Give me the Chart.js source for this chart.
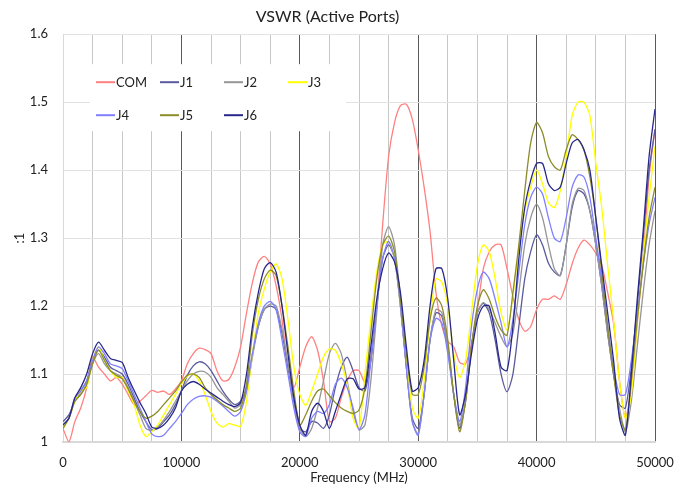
<!DOCTYPE html>
<html>
<head>
<meta charset="utf-8">
<script src="https://cdn.jsdelivr.net/npm/chart.js@4.4.1/dist/chart.umd.min.js"></script>
<style>
  html, body { margin: 0; padding: 0; background: #fff; }
</style>
</head>
<body>
<canvas id="chartVswr" width="675" height="487"></canvas>
<script>
// frequency points (MHz)
const freqs = [0, 500, 1000, 1500, 2000, 2500, 3000, 3500, 4000, 4500,
  5000, 5500, 6000, 6500, 7000, 7500, 8000, 8500, 9000, 9500,
  10000, 10500, 11000, 11500, 12000, 12500, 13000, 13500, 14000, 14500,
  15000, 15500, 16000, 16500, 17000, 17500, 18000, 18500, 19000, 19500,
  20000, 20500, 21000, 21500, 22000, 22500, 23000, 23500, 24000, 24500,
  25000, 25500, 26000, 26500, 27000, 27500, 28000, 28500, 29000, 29500,
  30000, 30500, 31000, 31500, 32000, 32500, 33000, 33500, 34000, 34500,
  35000, 35500, 36000, 36500, 37000, 37500, 38000, 38500, 39000, 39500,
  40000, 40500, 41000, 41500, 42000, 42500, 43000, 43500, 44000, 44500,
  45000, 45500, 46000, 46500, 47000, 47500, 48000, 48500, 49000, 49500, 50000];

const com = [1.02, 1.00, 1.03, 1.05, 1.08, 1.125, 1.11, 1.10, 1.09, 1.095,
  1.085, 1.07, 1.055, 1.06, 1.068, 1.076, 1.073, 1.075, 1.07, 1.078,
  1.09, 1.115, 1.13, 1.138, 1.136, 1.13, 1.105, 1.09, 1.092, 1.11,
  1.14, 1.19, 1.235, 1.265, 1.273, 1.262, 1.23, 1.18, 1.11, 1.08,
  1.11, 1.14, 1.155, 1.135, 1.09, 1.03, 1.035, 1.065, 1.09, 1.105,
  1.105, 1.088, 1.12, 1.20, 1.32, 1.42, 1.47, 1.495, 1.497, 1.475,
  1.43, 1.375, 1.31, 1.22, 1.17, 1.148, 1.14, 1.117, 1.115, 1.145,
  1.195, 1.255, 1.28, 1.29, 1.29, 1.255, 1.214, 1.18, 1.163, 1.17,
  1.195, 1.21, 1.21, 1.215, 1.21, 1.232, 1.262, 1.285, 1.297, 1.29,
  1.278, 1.26, 1.22, 1.175, 1.09, 1.035, 1.08, 1.175, 1.27, 1.39, 1.46];

const j1 = [1.03, 1.04, 1.06, 1.075, 1.09, 1.12, 1.135, 1.125, 1.11, 1.105,
  1.10, 1.085, 1.065, 1.045, 1.03, 1.018, 1.02, 1.03, 1.04, 1.055,
  1.075, 1.098, 1.112, 1.118, 1.115, 1.105, 1.09, 1.075, 1.063, 1.055,
  1.06, 1.08, 1.13, 1.17, 1.195, 1.2, 1.195, 1.16, 1.11, 1.06,
  1.02, 1.015, 1.03, 1.028, 1.02, 1.04, 1.08, 1.11, 1.125, 1.105,
  1.08, 1.075, 1.12, 1.2, 1.27, 1.29, 1.27, 1.2, 1.11, 1.035,
  1.02, 1.07, 1.15, 1.19, 1.185, 1.14, 1.07, 1.02, 1.06, 1.14,
  1.19, 1.204, 1.19, 1.15, 1.1, 1.074, 1.1, 1.17, 1.24, 1.28,
  1.305, 1.29, 1.263, 1.25, 1.245, 1.29, 1.345, 1.37, 1.365, 1.34,
  1.29, 1.23, 1.16, 1.1, 1.055, 1.05, 1.11, 1.2, 1.3, 1.4, 1.46];

const j2 = [1.025, 1.035, 1.06, 1.07, 1.085, 1.115, 1.13, 1.115, 1.105, 1.10,
  1.095, 1.08, 1.06, 1.04, 1.02, 1.017, 1.022, 1.032, 1.045, 1.06,
  1.075, 1.09, 1.10, 1.104, 1.103, 1.095, 1.08, 1.07, 1.06, 1.05,
  1.055, 1.075, 1.125, 1.17, 1.195, 1.203, 1.2, 1.165, 1.115, 1.06,
  1.02, 1.008, 1.02, 1.05, 1.09, 1.13, 1.145, 1.13, 1.09, 1.045,
  1.018, 1.025, 1.09, 1.19, 1.29, 1.317, 1.29, 1.21, 1.11, 1.03,
  1.012, 1.07, 1.15, 1.195, 1.19, 1.14, 1.07, 1.025, 1.06, 1.14,
  1.19, 1.205, 1.195, 1.175, 1.155, 1.14, 1.16, 1.22, 1.29, 1.33,
  1.35, 1.33, 1.29, 1.255, 1.245, 1.29, 1.35, 1.373, 1.37, 1.34,
  1.29, 1.23, 1.16, 1.1, 1.05, 1.015, 1.06, 1.14, 1.22, 1.29, 1.34];

const j3 = [1.02, 1.035, 1.06, 1.075, 1.08, 1.12, 1.14, 1.12, 1.105, 1.095,
  1.095, 1.075, 1.055, 1.025, 1.008, 1.015, 1.025, 1.04, 1.055, 1.07,
  1.085, 1.097, 1.10, 1.09, 1.07, 1.045, 1.028, 1.022, 1.027, 1.025,
  1.023, 1.06, 1.13, 1.19, 1.225, 1.25, 1.262, 1.24, 1.18, 1.11,
  1.07, 1.054, 1.075, 1.10, 1.125, 1.137, 1.135, 1.115, 1.085, 1.035,
  1.02, 1.10, 1.18, 1.25, 1.29, 1.295, 1.27, 1.2, 1.12, 1.05,
  1.035, 1.09, 1.18, 1.24, 1.235, 1.2, 1.13, 1.095, 1.12, 1.19,
  1.26, 1.29, 1.28, 1.24, 1.19, 1.165, 1.215, 1.285, 1.34, 1.375,
  1.40, 1.38, 1.352, 1.345, 1.37, 1.42, 1.48, 1.5, 1.5, 1.48,
  1.41, 1.345, 1.26, 1.18, 1.09, 1.035, 1.07, 1.175, 1.27, 1.36, 1.435];

const j4 = [1.025, 1.035, 1.065, 1.075, 1.09, 1.12, 1.14, 1.13, 1.115, 1.112,
  1.108, 1.09, 1.07, 1.05, 1.03, 1.012, 1.008, 1.01, 1.02, 1.03,
  1.042, 1.055, 1.063, 1.067, 1.068, 1.066, 1.06, 1.053, 1.045, 1.038,
  1.045, 1.075, 1.13, 1.175, 1.2, 1.207, 1.195, 1.15, 1.1, 1.05,
  1.015, 1.008, 1.035, 1.045, 1.042, 1.055, 1.085, 1.094, 1.08, 1.05,
  1.018, 1.04, 1.12, 1.2, 1.27, 1.295, 1.27, 1.2, 1.11, 1.03,
  1.01, 1.07, 1.15, 1.182, 1.175, 1.13, 1.07, 1.03, 1.08, 1.17,
  1.225, 1.25, 1.24, 1.21, 1.175, 1.14, 1.18, 1.25, 1.32, 1.36,
  1.375, 1.365, 1.33, 1.30, 1.295, 1.33, 1.375, 1.393, 1.39, 1.36,
  1.3, 1.24, 1.17, 1.11, 1.07, 1.07, 1.12, 1.19, 1.26, 1.32, 1.36];

const j5 = [1.02, 1.035, 1.06, 1.07, 1.085, 1.115, 1.135, 1.12, 1.105, 1.098,
  1.093, 1.078, 1.06, 1.045, 1.035, 1.038, 1.045, 1.055, 1.065, 1.075,
  1.088, 1.098, 1.10, 1.095, 1.08, 1.07, 1.062, 1.055, 1.05, 1.045,
  1.05, 1.085, 1.16, 1.21, 1.24, 1.253, 1.245, 1.2, 1.14, 1.075,
  1.025, 1.04, 1.06, 1.075, 1.078, 1.068, 1.058, 1.05, 1.045, 1.042,
  1.047, 1.08, 1.16, 1.24, 1.29, 1.303, 1.28, 1.21, 1.13, 1.07,
  1.07, 1.11, 1.18, 1.212, 1.2, 1.15, 1.07, 1.015, 1.06, 1.14,
  1.2, 1.224, 1.21, 1.184, 1.165, 1.157, 1.22, 1.29, 1.37, 1.44,
  1.47, 1.455, 1.42, 1.405, 1.40, 1.43, 1.452, 1.445, 1.43, 1.39,
  1.33, 1.25, 1.17, 1.1, 1.04, 1.018, 1.09, 1.18, 1.26, 1.33, 1.375];

const j6 = [1.025, 1.035, 1.065, 1.08, 1.10, 1.13, 1.147, 1.135, 1.123, 1.12,
  1.117, 1.095, 1.076, 1.058, 1.042, 1.022, 1.02, 1.025, 1.035, 1.05,
  1.075, 1.085, 1.089, 1.085, 1.078, 1.072, 1.066, 1.06, 1.055, 1.052,
  1.058, 1.1, 1.17, 1.22, 1.255, 1.264, 1.25, 1.2, 1.13, 1.065,
  1.025, 1.01, 1.045, 1.057, 1.045, 1.02, 1.045, 1.07, 1.093, 1.093,
  1.078, 1.08, 1.14, 1.21, 1.255, 1.278, 1.265, 1.22, 1.14, 1.075,
  1.08, 1.12, 1.2, 1.255, 1.255, 1.21, 1.12, 1.04, 1.07, 1.13,
  1.18, 1.2, 1.2, 1.16, 1.11, 1.105, 1.17, 1.27, 1.345, 1.385,
  1.41, 1.41, 1.38, 1.37, 1.375, 1.41, 1.44, 1.445, 1.43, 1.4,
  1.33, 1.26, 1.19, 1.12, 1.035, 1.01, 1.1, 1.21, 1.31, 1.42, 1.49];

const seriesNames = ['COM', 'J1', 'J2', 'J3', 'J4', 'J5', 'J6'];
const seriesValues = [com, j1, j2, j3, j4, j5, j6];
const seriesColors = ['rgb(255,128,128)', 'rgb(90,90,160)', 'rgb(150,150,150)', 'rgb(255,255,0)',
  'rgb(128,128,255)', 'rgb(140,140,40)', 'rgb(40,40,140)'];

const FONT = 'Lato, "Noto Sans", sans-serif';
const TEXT = '#222222';

// legend drawn as a white box inside the plot, 4 columns
const legendBox = {
    id: 'legendBox',
    afterDraw(chart){
        const {ctx, chartArea} = chart;
        const x0 = chartArea.left + 27;
        const y0 = chartArea.top + 30;
        ctx.save();
        ctx.fillStyle = '#ffffff';
        ctx.fillRect(x0, y0, 256, 67);
        ctx.font = '13px ' + FONT;
        ctx.textBaseline = 'middle';
        chart.data.datasets.forEach((ds, i) => {
            const lx = x0 + 6 + (i % 4) * 64;
            const ly = y0 + 18 + Math.floor(i / 4) * 33;
            ctx.strokeStyle = ds.borderColor;
            ctx.lineWidth = 2;
            ctx.beginPath();
            ctx.moveTo(lx, ly);
            ctx.lineTo(lx + 19, ly);
            ctx.stroke();
            ctx.fillStyle = TEXT;
            ctx.fillText(ds.label, lx + 20, ly + 1);
        });
        ctx.restore();
    }
};

const ctx = document.getElementById('chartVswr');

new Chart(ctx, {
    type: 'line',
    data: {
        datasets: seriesNames.map((name, i) => ({
            label: name,
            data: freqs.map((f, k) => ({x: f, y: seriesValues[i][k]})),
            borderColor: seriesColors[i],
            borderWidth: 1.3,
            pointRadius: 0,
            tension: 0.25,
            fill: false,
            order: seriesNames.length - i
        }))
    },
    options: {
        responsive: false,
        devicePixelRatio: 1,
        animation: false,
        layout: {
            padding: {left: 0, right: 20, top: 0, bottom: 0}
        },
        scales: {
            x: {
                type: 'linear',
                min: 0,
                max: 50000,
                afterFit(scale){
                    scale.height = 45;
                    scale.paddingLeft = 0;
                    scale.paddingRight = 0;
                },
                ticks: {
                    stepSize: 2500,
                    autoSkip: false,
                    maxRotation: 0,
                    padding: 13,
                    color: TEXT,
                    font: {family: FONT, size: 13},
                    callback: v => v % 10000 === 0 ? v : ''
                },
                grid: {
                    drawTicks: false,
                    color: c => (c.tick && c.tick.value % 10000 === 0 && c.tick.value !== 0) ? '#5a5a5a' : '#c8c8c8',
                    lineWidth: 1
                },
                border: {color: '#d9d9d9', width: 2},
                title: {
                    display: true,
                    text: 'Frequency (MHz)',
                    color: TEXT,
                    font: {family: FONT, size: 13},
                    padding: {top: 0, bottom: 1}
                }
            },
            y: {
                min: 1,
                max: 1.6,
                afterFit(scale){
                    scale.width = 63;
                    scale.paddingTop = 0;
                    scale.paddingBottom = 0;
                },
                ticks: {
                    stepSize: 0.1,
                    padding: 15,
                    color: TEXT,
                    font: {family: FONT, size: 13},
                    callback: v => +v.toFixed(1)
                },
                grid: {
                    drawTicks: false,
                    color: '#e2e2e2'
                },
                border: {color: '#d9d9d9'},
                title: {
                    display: true,
                    text: ':1',
                    color: TEXT,
                    font: {family: FONT, size: 13},
                    padding: {top: 12, bottom: 0}
                }
            }
        },
        plugins: {
            legend: {display: false},
            tooltip: {enabled: false},
            title: {
                display: true,
                text: 'VSWR (Active Ports)',
                color: TEXT,
                font: {family: FONT, size: 16, weight: 'normal'},
                padding: {top: 7, bottom: 8}
            }
        }
    },
    plugins: [legendBox]
});
</script>
</body>
</html>
